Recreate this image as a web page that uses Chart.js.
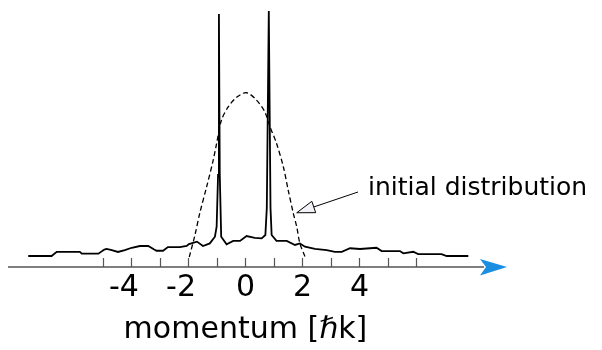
<!DOCTYPE html>
<html>
<head>
<meta charset="utf-8">
<script src="https://cdn.jsdelivr.net/npm/chart.js@4"></script>
<style>
  html, body { margin: 0; padding: 0; background: #fff; }
  canvas { display: block; }
</style>
</head>
<body>
<canvas id="mom" width="602" height="350"></canvas>
<script>
// distribution après interaction (trait plein)
const pMom = [-7.62, -6.80, -6.62, -5.81, -5.74, -5.16, -4.95, -4.87, -4.69, -4.47, -4.23, -3.99, -3.70, -3.41, -3.20, -3.12,
  -2.89, -2.72, -2.30, -2.06, -1.98, -1.70, -1.49, -1.25, -1.07, -1.01, -0.96, -0.93, -0.90, -0.85, -0.66, -0.43, -0.19,
  0.04, 0.33, 0.57, 0.70, 0.75, 0.82, 0.88, 0.92, 1.09, 1.45, 1.74, 1.91, 2.09, 2.44, 2.85, 3.14, 3.38, 3.67, 4.02,
  4.60, 4.78, 5.42, 5.54, 5.89, 6.06, 6.88, 7.06, 7.82];
const pVal = [0.063, 0.063, 0.087, 0.087, 0.076, 0.076, 0.100, 0.103, 0.097, 0.086, 0.097, 0.110, 0.120, 0.120, 0.100, 0.093,
  0.093, 0.114, 0.114, 0.120, 0.131, 0.145, 0.120, 0.135, 0.173, 0.230, 0.526, 1.446, 0.526, 0.173, 0.130, 0.149, 0.149,
  0.177, 0.167, 0.164, 0.183, 0.337, 1.463, 0.337, 0.183, 0.149, 0.149, 0.126, 0.135, 0.116, 0.103, 0.097, 0.087, 0.087, 0.107, 0.103,
  0.110, 0.091, 0.091, 0.078, 0.087, 0.074, 0.074, 0.063, 0.063];

// distribution initiale (pointillés)
const iMom = [-1.97, -1.77, -1.60, -1.36, -1.13, -1.01, -0.84, -0.60, -0.31, 0.04, 0.39, 0.68, 0.86, 1.09, 1.33, 1.50, 1.68, 1.80, 1.91, 2.09];
const iVal = [0.057, 0.183, 0.309, 0.459, 0.611, 0.707, 0.840, 0.916, 0.970, 0.996, 0.954, 0.887, 0.802, 0.707, 0.573, 0.440, 0.307, 0.230, 0.135, 0.059];

const minorTicks = [-5, -4, -3, -2, -1, 0, 1, 2, 3, 4, 5, 6];
const tickLabels = [-4, -2, 0, 2, 4];
const axisTitle = 'momentum [\u210Fk]';
const noteText = 'initial distribution';
const notePoint = [1.80, 0.31];

const FONT = '"DejaVu Sans", sans-serif';

const toXY = (xs, ys) => xs.map((x, i) => ({ x, y: ys[i] }));

// axe fléché, graduations vers le haut, étiquettes et annotation
const axisPlugin = {
  id: 'axisPlugin',
  afterDraw(chart) {
    const { ctx, chartArea } = chart;
    const xs = chart.scales.x, ys = chart.scales.y;
    const y0 = ys.getPixelForValue(0);
    ctx.save();

    ctx.strokeStyle = '#555';
    ctx.lineWidth = 1.5;
    ctx.beginPath();
    ctx.moveTo(chartArea.left, y0);
    ctx.lineTo(chartArea.right + 4, y0);
    ctx.stroke();

    ctx.lineWidth = 1.2;
    minorTicks.forEach(v => {
      const px = Math.round(xs.getPixelForValue(v)) + 0.5;
      ctx.beginPath();
      ctx.moveTo(px, y0 - 9);
      ctx.lineTo(px, y0);
      ctx.stroke();
    });

    // flèche bleue
    const ax = chartArea.right;
    ctx.fillStyle = '#1a8ee0';
    ctx.beginPath();
    ctx.moveTo(ax + 27, y0);
    ctx.lineTo(ax, y0 - 8);
    ctx.lineTo(ax + 6, y0);
    ctx.lineTo(ax, y0 + 8.5);
    ctx.closePath();
    ctx.fill();

    // étiquettes : chiffre centré sur la graduation
    ctx.fillStyle = '#000';
    ctx.font = '30px ' + FONT;
    ctx.textBaseline = 'alphabetic';
    tickLabels.forEach(v => {
      const px = xs.getPixelForValue(v);
      const digits = String(Math.abs(v));
      const w = ctx.measureText(digits).width;
      ctx.textAlign = 'right';
      ctx.fillText(v < 0 ? '-' + digits : digits, px + w / 2 - (v < 0 ? 2 : 0), y0 + 29);
    });

    ctx.textAlign = 'center';
    ctx.fillText(axisTitle, xs.getPixelForValue(0), y0 + 71);

    // annotation
    const tx = xs.getPixelForValue(notePoint[0]), ty = ys.getPixelForValue(notePoint[1]);
    const sx = 358, sy = 192;
    const ang = Math.atan2(sy - ty, sx - tx);
    const hl = 18, hw = 6;
    const bx = tx + Math.cos(ang) * hl, by = ty + Math.sin(ang) * hl;
    ctx.strokeStyle = '#000';
    ctx.lineWidth = 1;
    ctx.beginPath();
    ctx.moveTo(bx, by);
    ctx.lineTo(sx, sy);
    ctx.stroke();
    ctx.fillStyle = '#f2f3f8';
    ctx.beginPath();
    ctx.moveTo(tx, ty);
    ctx.lineTo(bx - Math.sin(ang) * hw, by + Math.cos(ang) * hw);
    ctx.lineTo(bx + Math.sin(ang) * hw, by - Math.cos(ang) * hw);
    ctx.closePath();
    ctx.fill();
    ctx.stroke();

    ctx.fillStyle = '#000';
    ctx.font = '25px ' + FONT;
    ctx.textAlign = 'left';
    ctx.fillText(noteText, 368, 194.5);

    ctx.restore();
  }
};

new Chart(document.getElementById('mom'), {
  type: 'line',
  data: {
    datasets: [
      { data: toXY(pMom, pVal), borderColor: '#000', borderWidth: 1.8, pointRadius: 0, tension: 0, fill: false },
      { data: toXY(iMom, iVal), borderColor: '#000', borderWidth: 1.3, borderDash: [5, 3], pointRadius: 0, tension: 0.3, fill: false }
    ]
  },
  options: {
    responsive: false,
    animation: false,
    devicePixelRatio: 1,
    layout: { padding: { left: 8, right: 122, top: 0, bottom: 83 } },
    plugins: { legend: { display: false }, tooltip: { enabled: false } },
    scales: {
      x: { type: 'linear', min: -8.33, max: 8.23, display: false },
      y: { min: 0, max: 1.526, display: false }
    }
  },
  plugins: [axisPlugin]
});
</script>
</body>
</html>
